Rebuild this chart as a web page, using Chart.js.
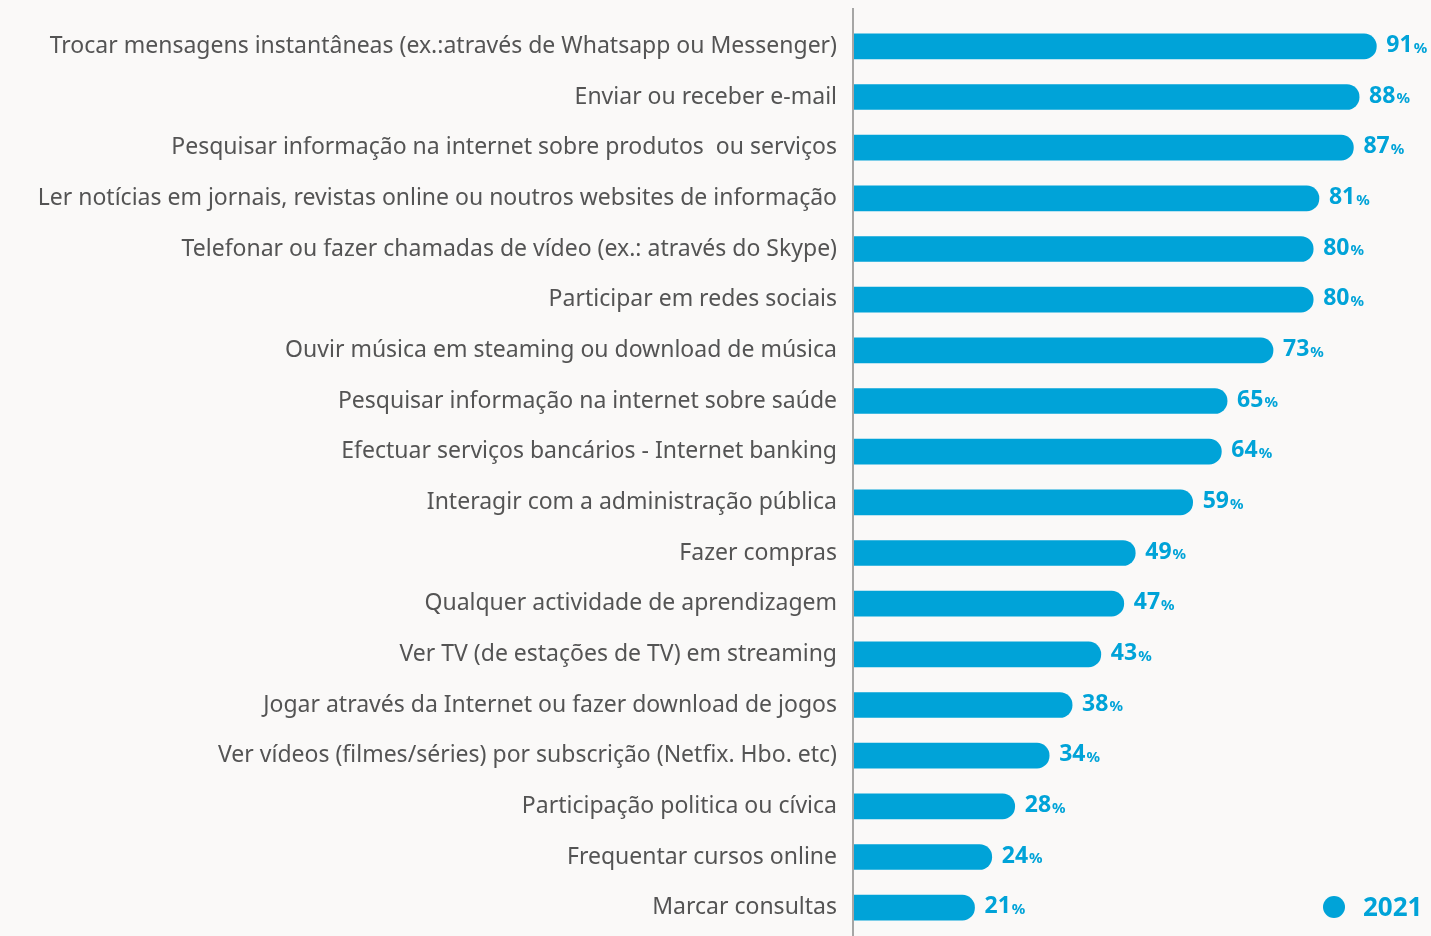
<!DOCTYPE html>
<html>
<head>
<meta charset="utf-8">
<script src="https://cdn.jsdelivr.net/npm/chart.js@4"></script>
<style>
    html, body { margin: 0; padding: 0; background: #faf9f8; }
    #wrap { width: 1431px; height: 936px; position: relative; }
</style>
</head>
<body>
<div id="wrap"><canvas id="chart"></canvas></div>
<script>
const categories = [
    'Trocar mensagens instantâneas (ex.:através de Whatsapp ou Messenger)',
    'Enviar ou receber e-mail',
    'Pesquisar informação na internet sobre produtos  ou serviços',
    'Ler notícias em jornais, revistas online ou noutros websites de informação',
    'Telefonar ou fazer chamadas de vídeo (ex.: através do Skype)',
    'Participar em redes sociais',
    'Ouvir música em steaming ou download de música',
    'Pesquisar informação na internet sobre saúde',
    'Efectuar serviços bancários - Internet banking',
    'Interagir com a administração pública',
    'Fazer compras',
    'Qualquer actividade de aprendizagem',
    'Ver TV (de estações de TV) em streaming',
    'Jogar através da Internet ou fazer download de jogos',
    'Ver vídeos (filmes/séries) por subscrição (Netfix. Hbo. etc)',
    'Participação politica ou cívica',
    'Frequentar cursos online',
    'Marcar consultas',
];
const values2021 = [91, 88, 87, 81, 80, 80, 73, 65, 64, 59, 49, 47, 43, 38, 34, 28, 24, 21];
const seriesLabel = '2021';

const BLUE = '#00a3d8';
const TEXT = '#545454';
const FONT = '"Noto Sans", Lato, sans-serif';

const overlay = {
    id: 'overlay',
    afterDatasetsDraw(chart) {
        const ctx = chart.ctx;
        const meta = chart.getDatasetMeta(0);
        ctx.save();
        ctx.textBaseline = 'middle';
        ctx.fillStyle = BLUE;
        meta.data.forEach((bar, i) => {
            const num = String(values2021[i]);
            let x = bar.x + 10;
            ctx.font = `bold 23px ${FONT}`;
            ctx.fillText(num, x, bar.y - 1);
            x += ctx.measureText(num).width + 1;
            ctx.font = `bold 15px ${FONT}`;
            ctx.fillText('%', x, bar.y + 2);
        });

        // vertical axis line
        const left = chart.chartArea.left - 1;
        ctx.strokeStyle = '#8a8a8a';
        ctx.lineWidth = 1.5;
        ctx.beginPath();
        ctx.moveTo(left, 8);
        ctx.lineTo(left, chart.height);
        ctx.stroke();

        // legend
        ctx.fillStyle = BLUE;
        ctx.beginPath();
        ctx.arc(1334, 907, 11, 0, Math.PI * 2);
        ctx.fill();
        ctx.font = `bold 26px ${FONT}`;
        ctx.textAlign = 'left';
        ctx.fillText(seriesLabel, 1363, 909);
        ctx.restore();
    },
};

new Chart(document.getElementById('chart'), {
    type: 'bar',
    data: {
        labels: categories,
        datasets: [{
            label: seriesLabel,
            data: values2021,
            backgroundColor: BLUE,
            borderSkipped: 'start',
            borderRadius: 13,
            barThickness: 25,
        }],
    },
    options: {
        indexAxis: 'y',
        responsive: true,
        maintainAspectRatio: false,
        animation: false,
        layout: { padding: { top: 21, right: 3, bottom: 3, left: 0 } },
        plugins: { legend: { display: false }, tooltip: { enabled: false } },
        scales: {
            x: {
                display: false,
                min: 0,
                max: 100,
                afterFit: scale => { scale.height = 0; },
            },
            y: {
                afterFit: scale => {
                    scale.width = 854;
                    scale.paddingTop = 0;
                    scale.paddingBottom = 0;
                },
                grid: { display: false, drawTicks: false },
                border: { display: false },
                ticks: {
                    color: TEXT,
                    padding: 17,
                    font: { family: FONT, size: 23 },
                    autoSkip: false,
                },
            },
        },
    },
    plugins: [overlay],
});
</script>
</body>
</html>
